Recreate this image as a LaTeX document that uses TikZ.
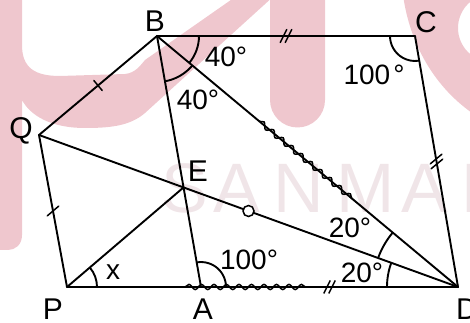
\documentclass[tikz,border=0pt]{standalone}
\usepackage{fontspec}
\setmainfont{Liberation Sans}
\usetikzlibrary{calc,angles,decorations.pathmorphing,decorations.markings}
\definecolor{wmpink}{RGB}{239,199,206}
\definecolor{wmtext}{RGB}{240,229,232}
\begin{document}
\begin{tikzpicture}[x=1pt,y=1pt,
  ln/.style={line width=1.9pt, line cap=round, line join=round},
  arcmark/.style={draw, line width=1.9pt},
  lab/.style={anchor=base, inner sep=0pt, font=\fontsize{30}{32}\selectfont},
  deg/.style={anchor=base, inner sep=0pt, font=\fontsize{28}{30}\selectfont},
  wmark/.style={anchor=base, inner sep=0pt, text=wmtext, font=\fontsize{70}{72}\selectfont},
  wavy/.style={decorate, decoration={snake, segment length=12.5pt, amplitude=2.6pt}, line width=1.5pt},
  onetickp/.style={postaction={decorate, decoration={markings, mark=at position 0.5 with {\draw[line width=1.5pt] (0pt,-6.5pt) -- (0pt,6.5pt);}}}},
  onetickq/.style={postaction={decorate, decoration={markings, mark=at position 0.5 with {\draw[line width=1.5pt] (3.75pt,-6.5pt) -- (-3.75pt,6.5pt);}}}},
  twotickl/.style={postaction={decorate, decoration={markings, mark=at position 0.5 with {\draw[line width=1.5pt] (-5.75pt,-6.5pt) -- (0.75pt,6.5pt) (-0.75pt,-6.5pt) -- (5.75pt,6.5pt);}}}},
  twotickr/.style={postaction={decorate, decoration={markings, mark=at position 0.5 with {\draw[line width=1.5pt] (1.25pt,-6.5pt) -- (-6.25pt,6.5pt) (6.25pt,-6.5pt) -- (-1.25pt,6.5pt);}}}}
]
\useasboundingbox (0,0) rectangle (470,323);
% watermark
\begin{scope}
\clip (0,0) rectangle (470,323);
\begin{scope}[yshift=323pt, yscale=-1]
\fill[wmpink] (-5,-5) -- (22,-5) -- (22,45) .. controls (22,68) and (35,76) .. (60,76) -- (125,74)
  .. controls (135,73) and (140,66) .. (145,60) -- (238,-5) -- (275,-5) -- (145,113)
  .. controls (130,126) and (110,128) .. (85,128) .. controls (50,128) and (30,115) .. (22,100)
  -- (22,235) .. controls (22,245) and (15,250) .. (8,250) -- (-5,250) -- cycle;
\fill[wmpink] (270,-5) -- (325,-5) -- (325,100) arc[start angle=0, end angle=180, radius=27.5] -- cycle;
\fill[wmpink, even odd rule] (403,-5) .. controls (410,45) and (435,88) .. (475,115) -- (475,-5) -- cycle
  (492,28) circle[radius=34];
\end{scope}
\node[wmark] (w1) at (185,110) {S};
\node[wmark] (w2) at (237,110) {A};
\node[wmark] (w3) at (299,110) {N};
\node[wmark] (w4) at (366,110) {M};
\node[wmark] (w5) at (425,110) {A};
\node[wmark] (w6) at (487,110) {R};
\end{scope}
% points
\coordinate (B) at (157,287);
\coordinate (C) at (415,287);
\coordinate (D) at (458,36);
\coordinate (P) at (67,36);
\coordinate (A) at (201,36);
\coordinate (Q) at (39,188);
\coordinate (E) at (intersection of B--A and Q--D);
\coordinate (M) at ($(Q)!0.5!(D)$);
% angle arcs
\pic[arcmark, angle radius=42pt] {angle=D--B--C};
\pic[arcmark, angle radius=46pt] {angle=A--B--D};
\pic[arcmark, angle radius=25pt] {angle=B--C--D};
\pic[arcmark, angle radius=25pt] {angle=D--A--B};
\pic[arcmark, angle radius=30pt] {angle=D--P--E};
\pic[arcmark, angle radius=85pt] {angle=B--D--Q};
\pic[arcmark, angle radius=71pt] {angle=Q--D--A};
% lines
\draw[ln, twotickl] (B) -- (C);
\draw[ln, twotickr] (C) -- (D);
\draw[ln] (P) -- (D);
\path[twotickl] (A) -- (D);
\draw[ln, onetickp] (Q) -- (B);
\draw[ln, onetickq] (Q) -- (P);
\draw[ln] (B) -- (A);
\draw[ln] (B) -- (D);
\draw[ln] (Q) -- (D);
\draw[ln] (P) -- (E);
% wavy marks
\draw[wavy] ($(B)!0.34!(D)$) -- ($(B)!0.65!(D)$);
\draw[wavy] ($(P)!0.302!(D)$) -- ($(P)!0.624!(D)$);
\draw[line width=1.5pt, fill=white] (M) circle[radius=5.5pt];
% labels
\node[lab] (lB) at (155,291) {B};
\node[lab] (lC) at (426,290) {C};
\node[lab] (lQ) at (21,184) {Q};
\node[lab] (lE) at (198,141) {E};
\node[lab] (lP) at (53,3) {P};
\node[lab] (lA) at (203,3) {A};
\node[lab] (lD) at (467,3) {D};
\node[deg] (a1) at (226,256) {40°};
\node[deg] (a2) at (198,213) {40°};
\node[deg] (a3) at (374,238) {100\hspace{3pt}°};
\node[deg] (a4) at (350,85) {20°};
\node[deg] (a5) at (362,40) {20°};
\node[deg] (a6) at (249,53) {100°};
\node[deg] (a7) at (113,43) {x};
\end{tikzpicture}
\end{document}
